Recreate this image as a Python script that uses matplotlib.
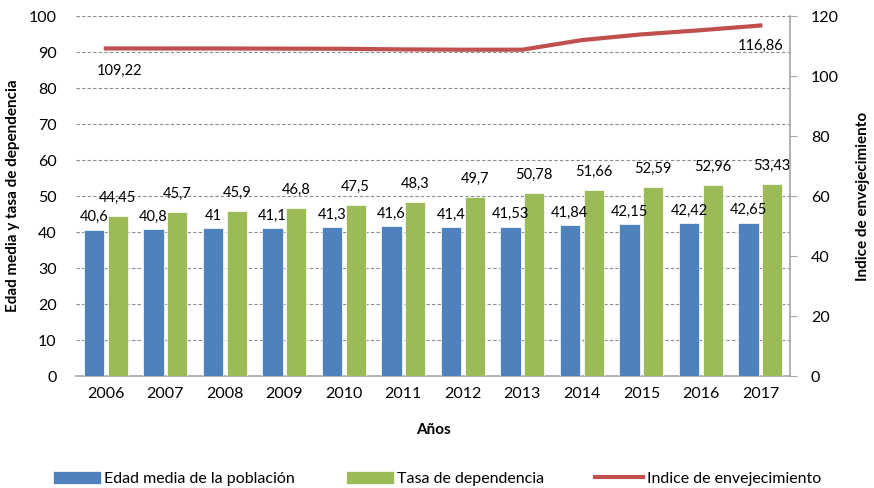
import matplotlib
matplotlib.use("Agg")
import matplotlib.pyplot as plt
import numpy as np

plt.rcParams['font.family'] = ['Lato', 'DejaVu Sans']

years = ['2006', '2007', '2008', '2009', '2010', '2011', '2012', '2013', '2014', '2015', '2016', '2017']
edad_media = [40.6, 40.8, 41, 41.1, 41.3, 41.6, 41.4, 41.53, 41.84, 42.15, 42.42, 42.65]
tasa_dep = [44.45, 45.7, 45.9, 46.8, 47.5, 48.3, 49.7, 50.78, 51.66, 52.59, 52.96, 53.43]
indice_env = [109.22, 109.2, 109.2, 109.15, 109.1, 108.9, 108.8, 108.8, 112.0, 113.9, 115.3, 116.86]

blue = '#4F81BD'
green = '#9BBB59'
red = '#C0504D'
grey = '#A6A6A6'

fig = plt.figure(figsize=(8.74, 4.88), dpi=100)
ax = fig.add_axes([0.087, 0.2295, 0.817, 0.7375])
ax2 = ax.twinx()

x = np.arange(len(years))
w = 0.34
ax.bar(x - 0.2, edad_media, w, color=blue, edgecolor='white', linewidth=0.5,
       label='Edad media de la población', zorder=3)
ax.bar(x + 0.2, tasa_dep, w, color=green, edgecolor='white', linewidth=0.5,
       label='Tasa de dependencia', zorder=3)

def fmt(v):
    s = ('%g' % v).replace('.', ',')
    return s

for i, v in enumerate(edad_media):
    ax.annotate(fmt(v), (x[i] - 0.2, v), xytext=(0, 9), textcoords='offset points',
                ha='center', va='center', fontsize=10.5, color='black', zorder=5)
for i, v in enumerate(tasa_dep):
    ax.annotate(fmt(v), (x[i] + 0.2, v), xytext=(0, 13), textcoords='offset points',
                ha='center', va='center', fontsize=10.5, color='black', zorder=5)

ax2.plot(x, indice_env, color=red, linewidth=3, label='Indice de envejecimiento', zorder=4)
ax2.annotate(fmt(indice_env[0]), (x[0], indice_env[0]), xytext=(10, -16),
             textcoords='offset points', ha='center', va='center', fontsize=10.5)
ax2.annotate(fmt(indice_env[-1]), (x[-1], indice_env[-1]), xytext=(0, -15),
             textcoords='offset points', ha='center', va='center', fontsize=10.5)

ax.set_xlim(-0.5, len(years) - 0.5)
ax.set_ylim(0, 100)
ax.set_yticks(np.arange(0, 101, 10))
ax2.set_ylim(0, 120)
ax2.set_yticks(np.arange(0, 121, 20))

ax.set_xticks(x)
ax.set_xticklabels(years, fontsize=11.5)
ax.tick_params(axis='x', length=0, pad=8)
ax.tick_params(axis='y', length=0, labelsize=11.5, pad=14)
ax2.tick_params(axis='y', length=5, direction='out', color=grey, labelsize=11.5, pad=10)

ax.grid(axis='y', color='#8C8C8C', linestyle=(0, (3, 2)), linewidth=0.8, zorder=0)
ax.set_axisbelow(True)

for a in (ax, ax2):
    a.spines['top'].set_visible(False)
    a.spines['left'].set_visible(False)
ax.spines['right'].set_visible(False)
ax2.spines['right'].set_color(grey)
ax2.spines['right'].set_linewidth(1.2)
ax2.spines['bottom'].set_visible(False)
ax.spines['bottom'].set_color(grey)
ax.spines['bottom'].set_linewidth(1.2)

ax.set_xlabel('Años', fontsize=11, fontweight='bold', labelpad=16)
ax.set_ylabel('Edad media y tasa de dependencia', fontsize=11, fontweight='bold', labelpad=6)
ax2.set_ylabel('Indice de envejecimiento', fontsize=11, fontweight='bold', labelpad=12)

h1, l1 = ax.get_legend_handles_labels()
h2, l2 = ax2.get_legend_handles_labels()
fig.legend(h1 + h2, l1 + l2, loc='lower center', bbox_to_anchor=(0.5, -0.025), ncol=3,
           frameon=False, fontsize=11.5, columnspacing=3.2, handlelength=3, handletextpad=0.2,
           handleheight=0.9)

fig.savefig('out.png', dpi=100)
